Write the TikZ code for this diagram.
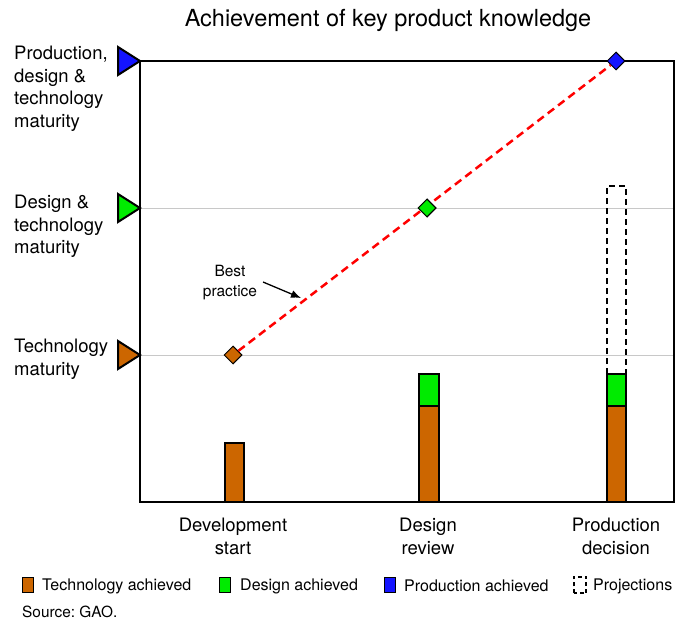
\documentclass[tikz,border=0pt]{standalone}
\usepackage{fontspec}
\setmainfont{TeX Gyre Heros}
\usetikzlibrary{arrows.meta,%
		positioning,%
		shapes.geometric}
\definecolor{techcol}{RGB}{204,102,0}
\definecolor{descol}{RGB}{0,235,0}
\definecolor{prodcol}{RGB}{20,20,255}
\definecolor{gridcol}{RGB}{200,200,200}
\frenchspacing
\tikzset{
  lab/.style={font=\fontsize{18.5}{22.5}\selectfont,inner sep=0pt,align=left},
  cat/.style={font=\fontsize{18.5}{22.5}\selectfont,inner sep=0pt,align=center},
  leg/.style={font=\fontsize{16}{19}\selectfont,inner sep=0pt},
  gem/.style={diamond,draw=black,line width=1pt,minimum width=18pt,minimum height=18pt,inner sep=0pt},
  swatch/.style={draw=black,line width=1.8pt,minimum width=11pt,minimum height=15pt,inner sep=0pt},
  bar/.style={draw=black,line width=2.2pt}
}

\begin{document}
\begin{tikzpicture}[x=1pt,y=-1pt]

  \useasboundingbox (0,0) rectangle (676,628);

  % title
  \node[font=\fontsize{23.5}{28}\selectfont,inner sep=0pt,anchor=base] (title) at (388,27) {Achievement of key product knowledge};

  % levels
  \draw[gridcol,line width=1pt] (140,208) -- (674,208);
  \draw[gridcol,line width=1pt] (140,355) -- (674,355);
  \draw[line width=2.5pt] (140,61) rectangle (674,502);

  % level markers
  \filldraw[fill=prodcol,line width=2pt,line join=miter] (118,47) -- (140,61) -- (118,75) -- cycle;
  \filldraw[fill=descol,line width=2pt,line join=miter] (118,194) -- (140,208) -- (118,222) -- cycle;
  \filldraw[fill=techcol,line width=2pt,line join=miter] (118,341) -- (140,355) -- (118,369) -- cycle;
  \node[lab,anchor=north west] (labProd) at (14,46) {Production,\\design \&\\technology\\maturity};
  \node[lab,anchor=north west] (labDes) at (14,195) {Design \&\\technology\\maturity};
  \node[lab,anchor=north west] (labTech) at (14,339) {Technology\\maturity};

  % bars
  \filldraw[bar,fill=techcol] (225,443) rectangle (244,502);
  \filldraw[bar,fill=techcol] (419,406) rectangle (439,502);
  \filldraw[bar,fill=descol] (419,374) rectangle (439,406);
  \filldraw[bar,fill=techcol] (607,406) rectangle (626,502);
  \filldraw[bar,fill=descol] (607,374) rectangle (626,406);
  \draw[line width=2pt,dash pattern=on 6pt off 4pt] (607,374) -- (607,186) -- (626,186) -- (626,374);

  % best practice
  \node[gem,fill=techcol] (dTech) at (233,355) {};
  \node[gem,fill=descol] (dDes) at (427,208) {};
  \node[gem,fill=prodcol] (dProd) at (616,61) {};
  \draw[red,line width=2.5pt,dash pattern=on 8pt off 5pt] (dTech) -- (dProd);
  \node[gem,fill=descol] at (dDes) {};
  \node[font=\fontsize{15.5}{19.5}\selectfont,inner sep=0pt,align=center,anchor=base] (best) at (230,296) {Best\\practice};
  \coordinate (bp) at (301,298);
  \draw[-{Latex[length=10pt,width=8pt]},line width=1.3pt] (263,282) -- (bp);

  % milestones
  \node[cat,anchor=north] (catDev) at (233,518) {Development\\start};
  \node[cat,anchor=north] (catRev) at (428,518) {Design\\review};
  \node[cat,anchor=north] (catDec) at (616,518) {Production\\decision};

  % legend
  \node[swatch,fill=techcol] (sqTech) at (28,585) {};
  \node[leg,anchor=west] (legTech) at (42,586) {Technology achieved};
  \node[swatch,fill=descol] (sqDes) at (225,585) {};
  \node[leg,anchor=west] (legDes) at (240,586) {Design achieved};
  \node[swatch,fill=prodcol] (sqProd) at (390,585) {};
  \node[leg,anchor=west] (legProd) at (404,586) {Production achieved};
  \node[swatch,draw=none] (sqProj) at (580,585) {};
  \draw[line width=2pt,dash pattern=on 4pt off 3pt] (sqProj.south west) rectangle (sqProj.north east);
  \node[leg,anchor=west] (legProj) at (593,586) {Projections};
  \node[font=\fontsize{15.4}{18}\selectfont,inner sep=0pt,anchor=base west] (src) at (22,617) {Source: GAO.};

\end{tikzpicture}
\end{document}
